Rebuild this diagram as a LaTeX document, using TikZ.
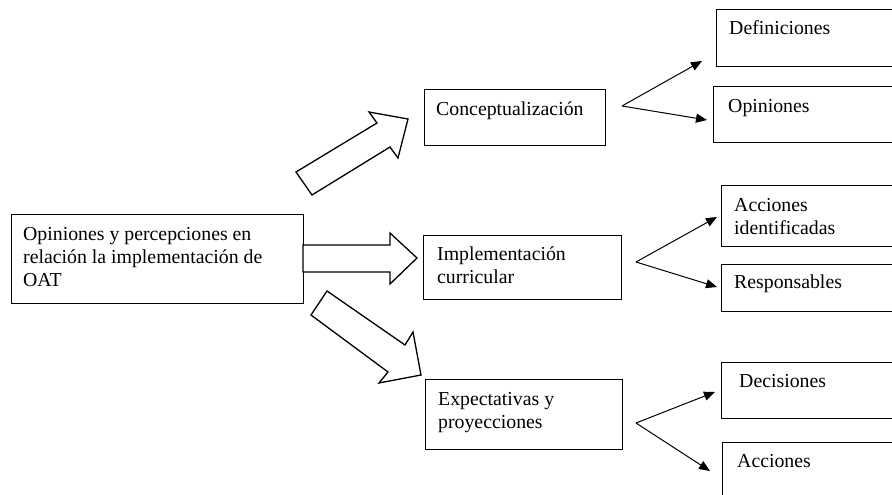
\documentclass[tikz,border=0pt]{standalone}
\usepackage{fontspec}
\setmainfont{Liberation Serif}
\usetikzlibrary{arrows.meta}
\begin{document}
\begin{tikzpicture}[x=1pt,y=-1pt,
  box/.style={draw=black, line width=1.2pt, anchor=north west, inner sep=0pt, fill=none},
  txt/.style={anchor=base west, inner sep=0pt, align=left, font=\fontsize{19.8}{23}\selectfont},
  fan/.style={draw=black, line width=1pt, -{Triangle[length=11pt,width=9pt]}},
  blk/.style={draw=black, line width=1.3pt, line join=miter, fill=white}]
\useasboundingbox (0,0) rectangle (892,495);
\clip (0,0) rectangle (892,495);
% boxes
\node[box, minimum width=292pt, minimum height=89pt] (main) at (11,214) {};
\node[box, minimum width=181pt, minimum height=56pt] (conc) at (424,89) {};
\node[box, minimum width=198pt, minimum height=64pt] (impl) at (423,235) {};
\node[box, minimum width=197pt, minimum height=70pt] (expe) at (425,379) {};
\node[box, minimum width=190pt, minimum height=57pt] (defi) at (716,9) {};
\node[box, minimum width=190pt, minimum height=56pt] (opin) at (713,86) {};
\node[box, minimum width=190pt, minimum height=61pt] (acid) at (721,185) {};
\node[box, minimum width=190pt, minimum height=47pt] (resp) at (721,264) {};
\node[box, minimum width=190pt, minimum height=56pt] (deci) at (721,362) {};
\node[box, minimum width=190pt, minimum height=70pt] (acci) at (722,442) {};
% texts (base anchor = baseline of last line)
\node[txt] (tmain) at ([shift={(12,72)}]main.north west) {Opiniones y percepciones en\\relación la implementación de\\OAT};
\node[txt] (tconc) at ([shift={(12,26)}]conc.north west) {Conceptualización};
\node[txt] (timpl) at ([shift={(14,48)}]impl.north west) {Implementación\\curricular};
\node[txt] (texpe) at ([shift={(13,49)}]expe.north west) {Expectativas y\\proyecciones};
\node[txt] (tdefi) at ([shift={(13,26)}]defi.north west) {Definiciones};
\node[txt] (topin) at ([shift={(15,26)}]opin.north west) {Opiniones};
\node[txt] (tacid) at ([shift={(13,49)}]acid.north west) {Acciones\\identificadas};
\node[txt] (tresp) at ([shift={(13,24)}]resp.north west) {Responsables};
\node[txt] (tdeci) at ([shift={(18,25)}]deci.north west) {Decisiones};
\node[txt] (tacci) at ([shift={(15,25)}]acci.north west) {Acciones};
% block arrows
\draw[blk] (296,172) -- (377,123) -- (369,112) -- (408,119) -- (398,158) -- (390,147) -- (312,195) -- cycle;
\draw[blk] (303,245) -- (390,245) -- (390,233) -- (417,258) -- (390,284) -- (390,272) -- (303,272) -- cycle;
\draw[blk] (327,291) -- (405,345) -- (413,332) -- (421,375) -- (379,383) -- (388,372) -- (311,315) -- cycle;
% fan connectors
\coordinate (v1) at (622,106);
\coordinate (v1a) at (702,61);
\coordinate (v1b) at (707,120);
\coordinate (v2) at (636,262);
\coordinate (v2a) at (717,217);
\coordinate (v2b) at (717,287);
\coordinate (v3) at (636,423);
\coordinate (v3a) at (715,392);
\coordinate (v3b) at (710,471);
\draw[fan] (v1) -- (v1a);
\draw[fan] (v1) -- (v1b);
\draw[fan] (v2) -- (v2a);
\draw[fan] (v2) -- (v2b);
\draw[fan] (v3) -- (v3a);
\draw[fan] (v3) -- (v3b);
\end{tikzpicture}
\end{document}
